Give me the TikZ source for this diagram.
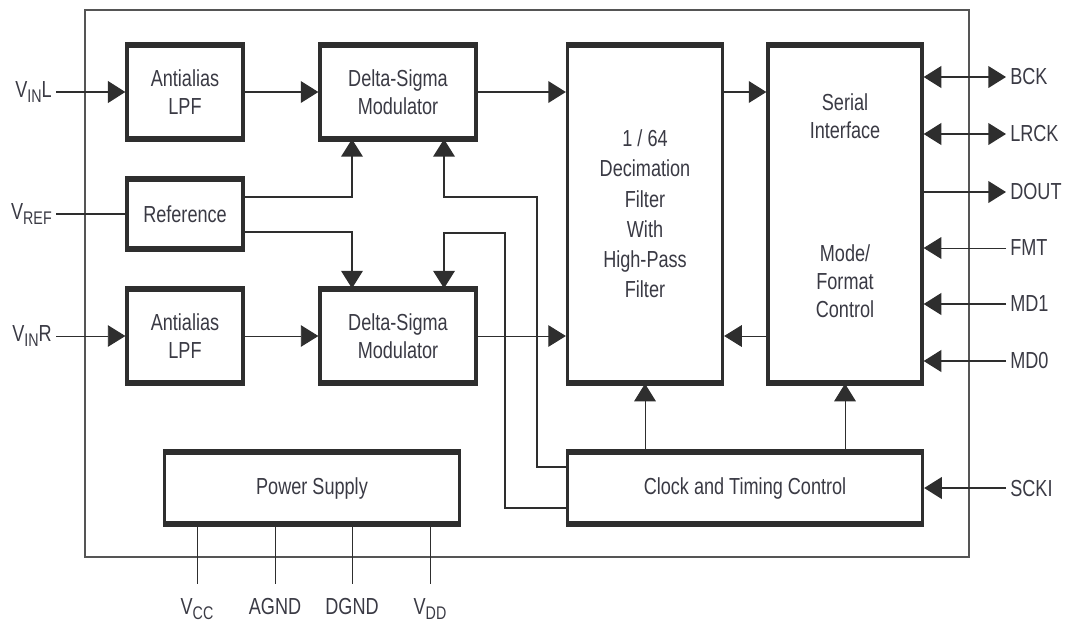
\documentclass[tikz,border=0pt]{standalone}
\usepackage{fontspec}
\setmainfont{Liberation Sans}[FakeStretch=0.78]
\usepackage{tikz}
\usetikzlibrary{arrows.meta, positioning, calc}
\definecolor{blockInk}{HTML}{2E2E2E}
\definecolor{blockText}{HTML}{3A3A44}
\definecolor{blockFrame}{HTML}{555555}
\newcommand{\pinsub}[1]{\raisebox{-0.45ex}{\fontsize{13}{13}\selectfont #1}}

\begin{document}
\begin{tikzpicture}[
  x=0.025cm, y=-0.025cm,
  font=\fontsize{16.5}{20}\selectfont, text=blockText,
  blk/.style={draw=blockInk, line width=2.3pt, fill=white, align=center, inner sep=0pt},
  pinlbl/.style={inner sep=1mm},
  wire/.style={draw=blockInk, line width=1.3pt},
  fine/.style={draw=blockInk, line width=0.7pt},
  heavy/.style={draw=blockInk, line width=2pt},
  tip/.style={-{Triangle[length=4.4mm, width=5.4mm]}},
  dtip/.style={{Triangle[length=4.4mm, width=5.4mm]}-{Triangle[length=4.4mm, width=5.4mm]}}
]
\useasboundingbox (0,0) rectangle (1070,634);
\draw[blockFrame, line width=1.4pt] (85,10) rectangle (969,557);

% blocks
\node[blk, minimum width=2.9cm, minimum height=2.275cm] (lpfL) at (185,92) {Antialias\\LPF};
\node[blk, minimum width=3.9cm, minimum height=2.275cm] (dsmL) at (398,92) {Delta-Sigma\\Modulator};
\node[blk, minimum width=2.9cm, minimum height=1.7cm] (ref) at (185,214) {Reference};
\node[blk, minimum width=2.9cm, minimum height=2.3cm] (lpfR) at (185,336) {Antialias\\LPF};
\node[blk, minimum width=3.9cm, minimum height=2.3cm] (dsmR) at (398,336) {Delta-Sigma\\Modulator};
\node[blk, minimum width=3.875cm, minimum height=8.4cm, font=\fontsize{16.5}{21.5}\selectfont] (decim) at (645,214)
  {1 / 64\\Decimation\\Filter\\With\\High-Pass\\Filter};
\node[blk, minimum width=3.85cm, minimum height=8.4cm] (serial) at (845,214) {};
\node[align=center] (serialTxt) at (845,116) {Serial\\Interface};
\node[align=center] (modeTxt) at (845,281) {Mode/\\Format\\Control};
\node[blk, minimum width=8.875cm, minimum height=1.75cm] (clock) at (745,488) {Clock and Timing Control};
\node[blk, minimum width=7.375cm, minimum height=1.75cm] (power) at (312,488) {Power Supply};
% heavier top and bottom edges
\foreach \b in {lpfL, dsmL, ref, lpfR, dsmR, decim, serial, clock, power} {
  \draw[blockInk, line width=3.4pt] (\b.north west) -- (\b.north east);
  \draw[blockInk, line width=3.4pt] (\b.south west) -- (\b.south east);
}

% left pins
\node[pinlbl, anchor=east] (vinl) at (56,92) {V\pinsub{IN}L};
\node[pinlbl, anchor=east] (vref) at (56,214) {V\pinsub{REF}};
\node[pinlbl, anchor=east] (vinr) at (56,336) {V\pinsub{IN}R};
\draw[heavy, tip] (vinl.east |- lpfL.west) -- (lpfL.west);
\draw[wire] (vref.east |- ref.west) -- (ref.west);
\draw[fine, tip] (vinr.east |- lpfR.west) -- (lpfR.west);

% signal path
\draw[wire, tip] (lpfL) -- (dsmL);
\draw[wire, tip] (dsmL) -- (dsmL -| decim.west);
\draw[wire, tip] (decim.east |- dsmL) -- (serial.west |- dsmL);
\draw[fine, tip] (lpfR) -- (dsmR);
\draw[fine, tip] (dsmR) -- (dsmR -| decim.west);
\draw[fine, tip] (serial.west |- dsmR) -- (decim.east |- dsmR);

% reference
\draw[wire, tip] ([yshift=4.25mm]ref.east) -| ([xshift=-11.5mm]dsmL.south);
\draw[wire, tip] ([yshift=-4.5mm]ref.east) -| ([xshift=-11.5mm]dsmR.north);

% clocks
\draw[wire, tip] ([yshift=5.25mm]clock.west) -| (537,197) -| ([xshift=11.5mm]dsmL.south);
\draw[wire, tip] ([yshift=-5mm]clock.west) -| (505,233) -| ([xshift=11.5mm]dsmR.north);
\draw[fine, tip] (decim.south |- clock.north) -- (decim.south);
\draw[fine, tip] (serial.south |- clock.north) -- (serial.south);

% right pins
\node[pinlbl, anchor=west] (bck) at (1006,77) {BCK};
\node[pinlbl, anchor=west] (lrck) at (1006,134) {LRCK};
\node[pinlbl, anchor=west] (dout) at (1006,192) {DOUT};
\node[pinlbl, anchor=west] (fmt) at (1006,248) {FMT};
\node[pinlbl, anchor=west] (mdone) at (1006,304) {MD1};
\node[pinlbl, anchor=west] (mdzero) at (1006,361) {MD0};
\node[pinlbl, anchor=west] (scki) at (1006,488) {SCKI};
\draw[wire, dtip] (serial.east |- bck.west) -- (bck.west);
\draw[wire, dtip] (serial.east |- lrck.west) -- (lrck.west);
\draw[wire, tip] (serial.east |- dout.west) -- (dout.west);
\draw[fine, tip] (fmt.west) -- (serial.east |- fmt.west);
\draw[wire, tip] (mdone.west) -- (serial.east |- mdone.west);
\draw[wire, tip] (mdzero.west) -- (serial.east |- mdzero.west);
\draw[wire, tip] (scki.west) -- (clock.east |- scki.west);

% supply pins
\node[pinlbl, anchor=north] (vcc) at (197,594) {V\pinsub{CC}};
\node[pinlbl, anchor=north] (agnd) at (275,594) {AGND};
\node[pinlbl, anchor=north] (dgnd) at (352,594) {DGND};
\node[pinlbl, anchor=north] (vdd) at (430,594) {V\pinsub{DD}};
\foreach \p in {vcc, agnd, dgnd, vdd}
  \draw[fine] (\p.north |- power.south) -- ([yshift=2.5mm]\p.north);
\end{tikzpicture}
\end{document}
